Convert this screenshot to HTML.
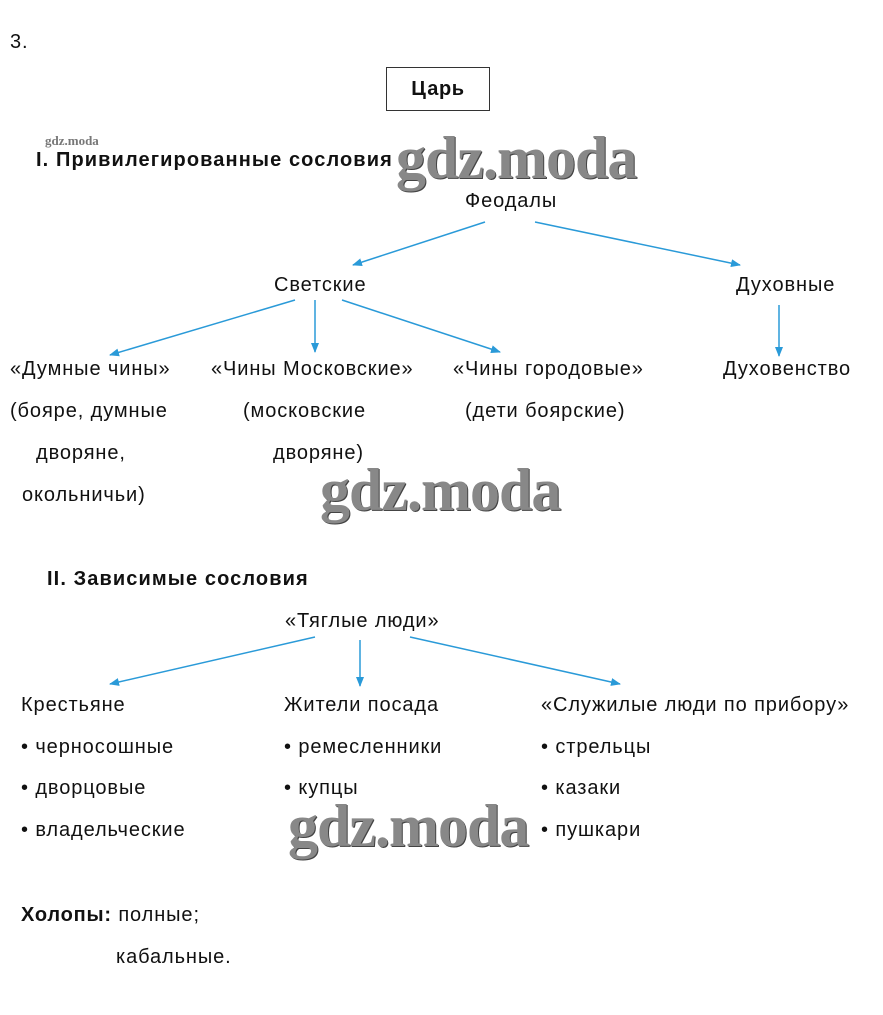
<!DOCTYPE html><html><head><meta charset="utf-8"><style>
body{margin:0;width:883px;height:1015px;background:#fff;position:relative;overflow:hidden;font-family:"Liberation Sans",sans-serif;font-size:20px;letter-spacing:0.9px;color:#111}
.t{position:absolute;white-space:nowrap;line-height:24px}
.b{font-weight:bold;letter-spacing:1.1px}
.w{position:absolute;font-family:"Liberation Serif",serif;font-weight:bold;color:#888;font-size:60px;letter-spacing:-1px;line-height:56px;text-shadow:1px 1px 0 #444}
</style></head><body>
<div class="t" style="left:10px;top:30px">3.</div>
<div style="position:absolute;left:386px;top:67px;width:104px;height:44px;border:1px solid #333;box-sizing:border-box"></div>
<div class="t b" style="left:386px;top:77px;width:104px;text-align:center;letter-spacing:0.6px">Царь</div>
<div class="t" style="left:45px;top:129px;font-family:'Liberation Serif',serif;font-size:13px;color:#777;font-weight:bold;letter-spacing:0">gdz.moda</div>
<div class="t b" style="left:36px;top:148px">I. Привилегированные сословия</div>
<div class="w" style="left:396px;top:130px">gdz.moda</div>
<div class="t" style="left:465px;top:189px">Феодалы</div>
<div class="t" style="left:274px;top:273px">Светские</div>
<div class="t" style="left:736px;top:273px">Духовные</div>
<div class="t" style="left:10px;top:357px">«Думные чины»</div>
<div class="t" style="left:10px;top:399px">(бояре, думные</div>
<div class="t" style="left:36px;top:441px">дворяне,</div>
<div class="t" style="left:22px;top:483px">окольничьи)</div>
<div class="t" style="left:211px;top:357px">«Чины Московские»</div>
<div class="t" style="left:243px;top:399px">(московские</div>
<div class="t" style="left:273px;top:441px">дворяне)</div>
<div class="t" style="left:453px;top:357px">«Чины городовые»</div>
<div class="t" style="left:465px;top:399px">(дети боярские)</div>
<div class="t" style="left:723px;top:357px">Духовенство</div>
<div class="w" style="left:320px;top:462px">gdz.moda</div>
<div class="t b" style="left:47px;top:567px">II. Зависимые сословия</div>
<div class="t" style="left:285px;top:609px">«Тяглые люди»</div>
<div class="t" style="left:21px;top:693px">Крестьяне</div>
<div class="t" style="left:21px;top:735px">• черносошные</div>
<div class="t" style="left:21px;top:776px">• дворцовые</div>
<div class="t" style="left:21px;top:818px">• владельческие</div>
<div class="t" style="left:284px;top:693px">Жители посада</div>
<div class="t" style="left:284px;top:735px">• ремесленники</div>
<div class="t" style="left:284px;top:776px">• купцы</div>
<div class="t" style="left:541px;top:693px">«Служилые люди по прибору»</div>
<div class="t" style="left:541px;top:735px">• стрельцы</div>
<div class="t" style="left:541px;top:776px">• казаки</div>
<div class="t" style="left:541px;top:818px">• пушкари</div>
<div class="w" style="left:288px;top:798px">gdz.moda</div>
<div class="t" style="left:21px;top:903px"><b style="letter-spacing:0.8px">Холопы:</b> полные;</div>
<div class="t" style="left:116px;top:945px">кабальные.</div>
<svg width="883" height="1015" style="position:absolute;left:0;top:0">
<defs><marker id="a" markerWidth="10" markerHeight="8" refX="9" refY="4" orient="auto" markerUnits="userSpaceOnUse"><path d="M0,0L10,4L0,8z" fill="#2a9ad8"/></marker></defs>
<g stroke="#2a9ad8" stroke-width="1.5" marker-end="url(#a)">
<line x1="485" y1="222" x2="353" y2="265"/>
<line x1="535" y1="222" x2="740" y2="265"/>
<line x1="295" y1="300" x2="110" y2="355"/>
<line x1="315" y1="300" x2="315" y2="352"/>
<line x1="342" y1="300" x2="500" y2="352"/>
<line x1="779" y1="305" x2="779" y2="356"/>
<line x1="315" y1="637" x2="110" y2="684"/>
<line x1="360" y1="640" x2="360" y2="686"/>
<line x1="410" y1="637" x2="620" y2="684"/>
</g></svg>
</body></html>
